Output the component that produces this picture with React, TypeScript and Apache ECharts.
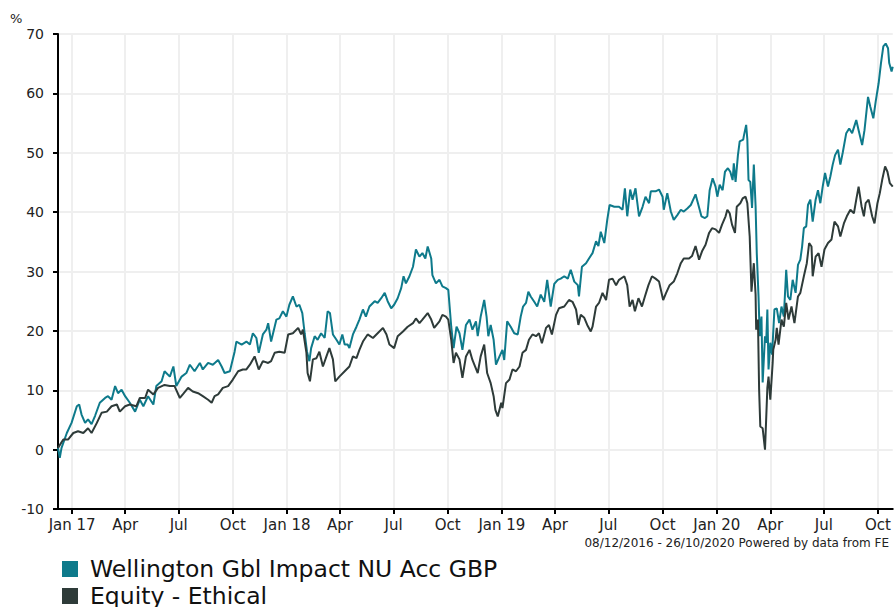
import React, { useEffect, useRef } from "react";
import * as echarts from "echarts";

const START_DATE = "2016-12-08";
const END_DATE = "2020-10-26";

const seriesNames = ["Wellington Gbl Impact NU Acc GBP", "Equity - Ethical"];

// [days since START_DATE, % growth]
const wellingtonPoints: [number, number][] = [
  [0,0.3],[3,-1.4],[6,0.3],[15,2.8],[23,4.5],[32,7.3],[36,7.6],[40,5.9],[46,4.5],[51,5.1],[57,4.3],[63,5.7],[71,7.9],[80,8.7],[85,9.0],[91,8.4],[97,10.7],[102,9.5],[108,10.1],[114,9.0],[122,7.9],[131,6.4],[139,8.4],[145,7.3],[153,9.0],[162,7.6],[167,10.7],[176,11.5],[181,13.2],[190,12.3],[196,14.0],[201,10.7],[210,12.3],[218,12.9],[224,14.3],[232,13.2],[241,14.6],[246,13.5],[255,14.6],[263,14.3],[272,15.1],[278,14.0],[283,12.9],[292,13.2],[300,16.5],[303,18.2],[312,17.7],[320,18.2],[326,17.7],[331,19.6],
  [337,18.8],[341,16.3],[348,19.4],[354,20.2],[357,21.3],[362,18.2],[371,21.9],[376,22.1],[382,23.3],[388,22.4],[393,24.4],[399,25.8],[405,24.1],[410,24.4],[415,23.0],[419,19.6],[423,16.5],[427,14.9],[430,17.1],[436,19.1],[441,18.5],[447,19.6],[453,18.8],[458,23.3],[462,23.0],[467,19.4],[473,18.5],[478,17.7],[483,19.4],[487,17.7],[492,17.7],[495,17.1],[501,19.4],[507,20.7],[512,21.9],[518,23.6],[523,22.4],[529,24.1],[538,25.0],[543,24.7],[549,25.5],[555,26.4],[560,25.0],[566,23.8],[571,24.4],[577,25.5],[583,27.2],[587,29.2],[591,28.0],[597,29.2],[603,30.8],[608,33.7],[614,32.5],[619,33.1],[624,32.2],[628,34.2],[634,32.2],[636,29.4],[642,28.0],[648,28.6],[653,27.5],[659,27.2],[663,26.9],[668,20.7],[672,17.1],[677,20.7],
  [682,19.6],[687,16.8],[693,21.0],[699,21.9],[704,20.2],[710,21.6],[713,19.1],[718,22.4],[724,25.2],[728,22.4],[731,19.1],[735,21.0],[740,18.5],[744,14.3],[750,15.7],[755,16.8],[758,15.1],[763,21.6],[769,20.7],[775,19.6],[781,19.4],[786,22.4],[790,24.1],[795,24.7],[799,26.6],[803,25.8],[809,24.9],[814,24.1],[820,26.1],[826,24.9],[831,28.6],[837,24.1],[843,27.9],[849,28.6],[854,28.8],[860,29.2],[866,28.8],[871,30.3],[877,28.3],[883,27.7],[885,25.8],[890,30.8],[897,31.4],[902,32.2],[908,33.1],[914,35.1],[918,34.3],[922,36.7],[928,34.8],[933,38.7],[937,41.2],[945,40.9],[953,40.9],[959,40.4],[963,44.0],[967,39.3],[972,43.8],[976,42.1],[981,44.0],[987,39.3],[993,40.9],[998,42.6],[1004,41.5],[1007,43.5],[1015,43.5],[1021,43.8],[1027,42.6],[1029,40.4],[1035,43.2],[1041,40.1],[1046,38.7],[1052,39.5],[1058,40.4],[1063,40.1],[1069,40.6],[1075,41.2],[1083,43.0],
  [1093,39.3],[1099,39.0],[1103,39.3],[1107,43.7],[1112,45.7],[1117,44.3],[1120,42.6],[1124,44.6],[1129,43.7],[1133,46.8],[1138,47.4],[1142,46.8],[1146,45.4],[1148,48.2],[1151,45.1],[1155,49.6],[1158,51.9],[1164,52.2],[1165,52.8],[1169,54.7],[1171,52.2],[1173,45.4],[1176,45.1],[1179,40.7],[1182,48.0],[1185,41.0],[1187,33.1],[1190,25.8],[1192,19.1],[1195,22.4],[1197,11.3],[1201,19.1],[1203,18.0],[1205,23.6],[1207,13.5],[1210,18.0],[1213,16.0],[1217,23.6],[1221,23.8],[1225,21.3],[1229,24.1],[1233,22.4],[1237,30.3],[1240,25.8],[1244,25.2],[1248,28.6],[1253,26.4],[1257,31.1],[1261,32.0],[1264,34.2],[1267,37.3],[1271,37.6],[1274,41.2],[1278,42.1],[1282,38.4],[1287,42.1],[1291,43.7],[1295,41.5],[1299,44.3],[1303,46.6],[1308,44.3],[1312,46.0],[1316,48.0],[1320,49.6],[1325,50.5],[1329,48.0],[1333,50.0],[1339,53.3],[1344,54.1],[1349,53.3],[1356,55.5],[1360,53.8],[1366,51.3],[1370,53.8],[1376,59.4],[1380,57.7],[1385,55.8],[1389,58.6],[1394,61.7],[1398,65.1],[1402,67.9],[1406,68.4],[1410,67.6],[1412,65.1],[1416,63.7],[1418,64.5],
];

const ethicalPoints: [number, number][] = [
  [0,0.3],[9,1.7],[17,1.7],[26,2.8],[34,3.1],[43,2.8],[51,3.6],[57,2.8],[66,4.5],[74,6.2],[83,6.4],[91,7.3],[100,7.6],[105,6.4],[114,7.3],[122,7.6],[133,7.3],[139,8.7],[148,8.7],[153,10.1],[162,9.3],[170,10.4],[181,10.9],[190,10.7],[198,10.7],[207,8.7],[212,9.3],[221,10.4],[229,9.8],[238,9.5],[246,9.0],[255,8.4],[261,7.9],[266,9.0],[272,9.3],[280,10.4],[289,10.7],[297,11.8],[306,13.2],[314,13.5],[320,13.5],[326,14.3],[334,15.7],[341,13.5],[348,14.9],[357,14.6],[362,14.9],[368,16.3],[376,16.5],[385,16.3],[391,19.4],[399,19.6],[408,20.5],[413,19.4],[416,20.2],[422,16.3],[424,12.9],[428,11.5],[433,15.2],[439,15.4],[444,16.5],[450,14.0],[456,15.7],[461,17.1],[467,15.2],[471,11.5],[478,12.3],[487,13.2],[495,14.0],[501,15.7],[507,15.4],[512,16.8],[518,18.2],[526,19.4],[535,18.8],[543,19.6],[552,20.5],[558,19.4],[563,17.7],[571,17.1],[577,19.1],[586,19.9],[594,20.7],[603,21.3],[608,22.1],[614,21.3],[619,21.9],[628,23.0],[634,21.9],[639,20.5],[648,21.6],[653,22.7],[659,22.4],[663,21.9],[668,18.5],[672,14.6],[676,16.3],
  [682,15.2],[687,12.1],[693,15.7],[699,16.8],[704,15.1],[713,12.9],[718,15.7],[724,17.7],[729,12.9],[735,11.2],[740,9.0],[743,6.7],[747,5.6],[753,7.9],[755,7.0],[761,11.2],[767,11.8],[772,13.5],[778,13.2],[784,14.0],[789,16.3],[795,16.8],[800,18.5],[806,19.4],[812,19.1],[817,19.6],[822,17.9],[829,20.5],[834,21.0],[839,19.4],[846,22.7],[851,23.8],[860,24.1],[868,25.2],[874,24.9],[880,23.6],[884,21.0],[888,22.7],[894,22.2],[899,21.0],[905,19.9],[908,20.7],[914,24.1],[919,24.7],[925,26.4],[931,25.2],[936,28.6],[942,28.8],[948,27.7],[953,28.6],[962,29.2],[967,27.7],[971,24.1],[976,25.2],[980,23.3],[986,25.5],[992,24.1],[997,25.8],[1003,27.7],[1009,29.2],[1015,28.8],[1021,28.3],[1028,25.2],[1033,26.4],[1039,27.7],[1046,28.3],[1052,29.7],[1058,31.4],[1063,32.2],[1072,32.2],[1077,32.6],[1083,34.3],
  [1089,32.0],[1094,33.4],[1100,34.5],[1106,36.5],[1111,37.3],[1117,37.1],[1123,36.5],[1128,37.9],[1134,39.3],[1137,40.4],[1141,39.8],[1145,37.9],[1150,36.5],[1153,40.9],[1159,41.5],[1163,42.3],[1168,42.6],[1171,41.5],[1175,35.9],[1178,26.6],[1182,31.4],[1185,26.1],[1186,20.2],[1189,21.9],[1191,10.1],[1193,3.9],[1197,3.6],[1201,0],[1205,10.4],[1207,12.3],[1210,8.4],[1214,14.6],[1215,16.8],[1219,18.5],[1221,20.5],[1224,17.7],[1229,21.9],[1233,20.7],[1237,24.7],[1241,21.9],[1246,24.1],[1251,21.3],[1257,25.8],[1261,26.4],[1267,29.2],[1272,31.4],[1276,34.8],[1280,34.2],[1282,29.2],[1287,32.5],[1292,33.1],[1297,30.8],[1302,33.7],[1308,34.8],[1314,35.4],[1319,38.4],[1325,37.6],[1329,35.9],[1335,38.1],[1340,39.3],[1346,40.4],[1352,39.8],[1356,42.1],[1360,44.3],[1365,41.0],[1369,39.3],[1372,41.5],[1377,42.1],[1383,39.3],[1387,38.1],[1392,41.5],[1396,43.2],[1400,45.4],[1405,47.7],[1409,46.8],[1413,44.9],[1418,44.3],
];

const tickDates = [
  "2017-01-01","2017-04-01","2017-07-01","2017-10-01",
  "2018-01-01","2018-04-01","2018-07-01","2018-10-01",
  "2019-01-01","2019-04-01","2019-07-01","2019-10-01",
  "2020-01-01","2020-04-01","2020-07-01","2020-10-01",
];
const tickLabels = [
  "Jan 17","Apr","Jul","Oct",
  "Jan 18","Apr","Jul","Oct",
  "Jan 19","Apr","Jul","Oct",
  "Jan 20","Apr","Jul","Oct",
];

const yTicks = { min: -10, max: 70, step: 10 };
const footerText = "08/12/2016 - 26/10/2020 Powered by data from FE";
const unitLabel = "%";
const seriesColors = ["#0e7a8b", "#2e3b39"];

const DAY = 86400000;
const toTs = (s: string) => {
  const [y, m, d] = s.split("-").map(Number);
  return Date.UTC(y, m - 1, d);
};

const FONT = "DejaVu Sans";

export default function App() {
  const ref = useRef<HTMLDivElement>(null);
  useEffect(() => {
    if (!ref.current) return;
    const chart = echarts.init(ref.current, undefined, { renderer: "svg" });
    const start = toTs(START_DATE);
    const dayOf = (s: string) => Math.round((toTs(s) - start) / DAY);
    const tickDays = tickDates.map(dayOf);
    const legendBase = {
      orient: "horizontal",
      left: 62,
      itemWidth: 16,
      itemHeight: 16,
      icon: "rect",
      padding: 0,
      textStyle: { fontSize: 23.5, color: "#111", fontFamily: FONT, padding: [0, 0, 0, 7] },
    };
    chart.setOption({
      animation: false,
      textStyle: { fontFamily: FONT },
      grid: { left: 58, right: 0, top: 34, bottom: 98, containLabel: false },
      legend: [
        { ...legendBase, top: 557, data: [seriesNames[0]] },
        { ...legendBase, top: 584, data: [seriesNames[1]] },
      ],
      graphic: [
        { type: "text", left: 10, top: 12, style: { text: unitLabel, fontSize: 13, fill: "#222", fontFamily: FONT } },
        { type: "text", right: 5, top: 537, style: { text: footerText, fontSize: 12, fill: "#222", fontFamily: FONT } },
      ],
      xAxis: {
        type: "value",
        min: 0,
        max: dayOf(END_DATE),
        axisLine: { show: true, onZero: false, lineStyle: { color: "#000", width: 2 } },
        axisTick: { show: true, length: 5, lineStyle: { color: "#000", width: 2 }, customValues: tickDays },
        axisLabel: {
          customValues: tickDays,
          fontSize: 15,
          color: "#222",
          margin: 8,
          fontFamily: FONT,
          formatter: (val: number) => {
            const i = tickDays.indexOf(val);
            return i >= 0 ? tickLabels[i] : "";
          },
        },
        splitLine: { show: true, lineStyle: { color: "#efefef", width: 2 } },
      },
      yAxis: {
        type: "value",
        min: yTicks.min,
        max: yTicks.max,
        interval: yTicks.step,
        axisLine: { show: true, lineStyle: { color: "#000", width: 2 } },
        axisTick: { show: true, length: 5, lineStyle: { color: "#000", width: 2 } },
        axisLabel: { fontSize: 14, color: "#222", margin: 14, fontFamily: FONT },
        splitLine: { show: true, lineStyle: { color: "#efefef", width: 2 } },
      },
      series: [
        {
          name: seriesNames[0],
          type: "line",
          showSymbol: false,
          symbol: "none",
          color: seriesColors[0],
          lineStyle: { width: 2, color: seriesColors[0] },
          data: wellingtonPoints,
        },
        {
          name: seriesNames[1],
          type: "line",
          showSymbol: false,
          symbol: "none",
          color: seriesColors[1],
          lineStyle: { width: 2, color: seriesColors[1] },
          data: ethicalPoints,
        },
      ],
    });
    return () => chart.dispose();
  }, []);
  return (
    <div
      ref={ref}
      style={{ position: "absolute", left: 0, top: 0, width: 894, height: 607, background: "#fff" }}
    />
  );
}
